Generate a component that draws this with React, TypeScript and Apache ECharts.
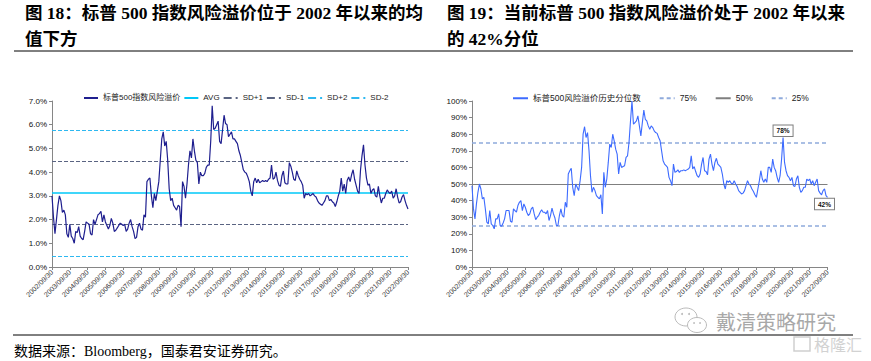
import React, { useEffect, useRef } from 'react';
import * as echarts from 'echarts';

// ---------- data ----------
const TICK_LABELS = [
  '2002/09/30', '2003/09/30', '2004/09/30', '2005/09/30', '2006/09/30', '2007/09/30',
  '2008/09/30', '2009/09/30', '2010/09/30', '2011/09/30', '2012/09/30', '2013/09/30',
  '2014/09/30', '2015/09/30', '2016/09/30', '2017/09/30', '2018/09/30', '2019/09/30',
  '2020/09/30', '2021/09/30', '2022/09/30',
];

// S&P 500 equity risk premium (%), monthly from 2002/09 to 2022/09
const RISK_PREMIUM = [
  3.0, 2.1, 1.4, 2.0, 2.6, 3.0, 2.8, 2.3, 2.4, 2.2, 1.4, 1.25,
  1.8, 1.3, 1.2, 1.0, 1.5, 1.45, 1.7, 1.3, 1.2, 1.15, 1.5, 1.9,
  1.85, 1.8, 1.4, 1.35, 2.0, 1.8, 2.0, 2.2, 2.25, 2.35, 1.9, 2.2,
  1.9, 1.75, 1.6, 1.75, 2.05, 1.85, 1.5, 1.55, 1.65, 1.75, 1.85, 1.8,
  1.75, 1.8, 1.5, 1.6, 1.85, 2.0, 1.7, 1.5, 1.2, 1.25, 1.7, 1.85,
  1.6, 1.55, 2.2, 2.1, 3.6, 3.7, 3.75, 3.0, 2.5, 3.1, 2.8, 3.2,
  3.6, 4.5, 5.4, 5.7, 5.1, 5.3, 4.5, 3.3, 2.8, 2.9, 2.6, 2.5,
  2.4, 2.6, 2.55, 1.7, 3.6, 3.4, 2.9, 3.5, 4.3, 4.9, 4.6, 5.4,
  4.9, 4.5, 4.4, 3.5, 4.0, 3.85, 3.85, 3.95, 4.2, 4.3, 4.3, 5.3,
  6.8, 5.8, 5.85, 6.0, 6.15, 5.3, 5.2, 5.8, 6.4, 6.05, 6.0, 5.5,
  5.6, 5.7, 5.4, 5.4, 5.3, 5.2, 4.9, 4.7, 4.4, 4.1, 4.0, 3.95,
  3.8, 3.6, 3.2, 3.0, 3.6, 3.75, 3.55, 3.7, 3.55, 3.6, 3.65, 3.6,
  3.65, 3.6, 3.7, 3.75, 4.3, 3.7, 3.75, 4.0, 3.65, 3.45, 3.4, 3.85,
  4.05, 3.55, 3.5, 3.5, 4.4, 4.25, 4.0, 3.7, 3.65, 4.05, 3.85, 3.7,
  3.6, 3.45, 2.9, 3.1, 3.05, 3.1, 3.0, 3.05, 3.1, 3.0, 2.95, 2.8,
  2.7, 2.65, 2.6, 2.7, 2.8, 3.0, 3.0, 2.8, 2.85, 2.75, 2.7, 2.55,
  2.75, 3.0, 3.2, 3.75, 3.2, 3.5, 3.1, 3.65, 3.8, 3.6, 3.9, 4.1,
  3.7, 3.45, 3.2, 3.1, 4.1, 4.7, 5.15, 4.3, 3.75, 3.45, 3.5, 3.1,
  3.25, 3.3, 3.0, 2.95, 3.4, 3.0, 2.7, 2.9, 2.9, 3.1, 3.25, 3.15,
  3.1, 3.2, 2.9, 3.0, 3.3, 2.95, 2.7, 2.75, 2.95, 3.05, 2.8, 2.6, 2.45,
];

// historical percentile of the risk premium (%), monthly
const PERCENTILE = [
  49, 35, 29, 38, 45, 50, 47, 41, 42, 35, 27, 26,
  34, 26, 25, 23, 29, 29, 32, 25, 24.5, 26.5, 29, 34,
  34, 34, 27.5, 27, 35, 34, 33, 37, 39, 40, 34, 38,
  36, 33, 31, 32, 35, 36, 32, 28.5, 30, 31, 33, 34.5,
  33, 33, 32, 34, 28, 31, 35.5, 32, 29.5, 25, 25, 31,
  35, 31, 30, 39, 36, 56, 58, 59.5, 48, 43, 50, 48,
  46, 52, 60, 80, 84.5, 78, 81, 70, 55, 45, 48, 46,
  43, 42, 41, 43.5, 32, 57, 48, 53, 63, 74, 72, 80,
  76, 71, 68, 56, 63, 60, 60.5, 61, 66, 67, 75, 88,
  100, 86, 87, 88, 91, 85, 79, 87, 94.5, 89, 88, 85,
  83, 85, 84, 82, 81, 80.5, 78, 76, 70, 64, 62, 61,
  60, 54, 52, 49, 62, 57, 57.5, 58.5, 57, 58, 58, 58.5,
  58, 58.5, 59, 60, 67, 59, 60.5, 57.5, 55, 54, 56, 62,
  66, 58, 57.5, 55.5, 65, 68, 62, 58, 63, 65.5, 62, 61,
  60, 56, 50, 47, 52, 51, 52, 50.5, 50, 52, 50, 48.5,
  46, 45, 44, 44.5, 46, 49, 52, 50, 49, 47, 45.5, 43.5,
  42, 47, 52, 58, 53, 51, 53, 51, 60, 60, 57, 65,
  60, 58, 54, 51, 55, 65, 78, 63, 58, 55, 54, 52,
  54, 49, 48.5, 53, 55, 48, 45, 46, 48, 48, 53, 52,
  53, 50, 52, 49, 51, 53, 46, 44.5, 43.5, 46, 47, 43, 42,
];

// reference levels of the left chart (%)
const AVG = 3.12;
const SD_PLUS_1 = 4.45;
const SD_MINUS_1 = 1.79;
const SD_PLUS_2 = 5.78;
const SD_MINUS_2 = 0.46;

// reference percentiles of the right chart
const P75 = 75;
const P50 = 50;
const P25 = 25;

// annotated points of the right chart (month index)
const MARKED_INDICES = [210, 240];

const START_YEAR = 2002;
const START_MONTH = 9;
const MONTHS = RISK_PREMIUM.map((_, i) => {
  const m = START_MONTH - 1 + i;
  const y = START_YEAR + Math.floor(m / 12);
  const mm = (m % 12) + 1;
  return `${y}/${String(mm).padStart(2, '0')}`;
});

// ---------- styles ----------
const AXIS_COLOR = '#868686';
const LATIN = 'Arial, "Liberation Sans", "Noto Sans CJK SC", sans-serif';
const SERIF = '"Liberation Serif", "Noto Sans CJK SC", serif';

const makeXAxis = (gridIndex: number) => ({
  type: 'category',
  gridIndex,
  data: MONTHS,
  boundaryGap: false,
  axisLine: { show: true, lineStyle: { color: AXIS_COLOR, width: 1 } },
  axisTick: {
    show: true,
    interval: (i: number) => i % 12 === 0,
    length: 3,
    lineStyle: { color: AXIS_COLOR },
  },
  axisLabel: {
    interval: (i: number) => i % 12 === 0,
    rotate: 45,
    fontSize: 7,
    color: '#333',
    margin: 4,
    fontFamily: LATIN,
    formatter: (v: string, i: number) => TICK_LABELS[Math.round(i / 12)] ?? v,
  },
  splitLine: { show: false },
});

const makeYAxis = (gridIndex: number, max: number, interval: number, fmt: (v: number) => string) => ({
  type: 'value',
  gridIndex,
  min: 0,
  max,
  interval,
  axisLine: { show: true, lineStyle: { color: AXIS_COLOR, width: 1 } },
  axisTick: { show: true, length: 3, lineStyle: { color: AXIS_COLOR } },
  axisLabel: { fontSize: 8, color: '#111', margin: 5, fontFamily: LATIN, formatter: fmt },
  splitLine: { show: false },
});

const refSeries = (
  name: string,
  value: number,
  color: string,
  type: 'solid' | 'dashed' | number[],
  width: number,
  axisIndex: number,
) => ({
  name,
  type: 'line',
  xAxisIndex: axisIndex,
  yAxisIndex: axisIndex,
  data: [],
  symbol: 'none',
  color,
  lineStyle: { color, type, width },
  markLine: {
    silent: true,
    symbol: ['none', 'none'],
    label: { show: false },
    lineStyle: { color, type, width },
    data: [{ yAxis: value }],
  },
});

const legendBase = {
  top: 89,
  itemWidth: 15,
  itemHeight: 8,
  itemStyle: { opacity: 0 },
};

export default function App() {
  const ref = useRef<HTMLDivElement>(null);

  useEffect(() => {
    const chart = echarts.init(ref.current!, null, { renderer: 'svg' });

    const option: any = {
      animation: false,
      backgroundColor: '#ffffff',
      grid: [
        { left: 52, top: 101, width: 356, height: 166 },
        { left: 472, top: 101, width: 355.5, height: 166 },
      ],
      xAxis: [makeXAxis(0), makeXAxis(1)],
      yAxis: [
        makeYAxis(0, 7, 1, (v: number) => `${v.toFixed(1)}%`),
        makeYAxis(1, 100, 10, (v: number) => `${v}%`),
      ],
      legend: [
        {
          ...legendBase,
          data: ['标普500指数风险溢价', 'AVG', 'SD+1', 'SD-1', 'SD+2', 'SD-2'],
          left: 78,
          itemWidth: 14,
          itemGap: 3,
          textStyle: { fontSize: 8, color: '#222', fontFamily: LATIN },
        },
        {
          ...legendBase,
          data: ['标普500风险溢价历史分位数', '75%', '50%', '25%'],
          left: 507,
          itemGap: 18,
          textStyle: { fontSize: 8.5, color: '#222', fontFamily: LATIN },
        },
      ],
      series: [
        {
          name: '标普500指数风险溢价',
          type: 'line',
          xAxisIndex: 0,
          yAxisIndex: 0,
          data: RISK_PREMIUM,
          symbol: 'none',
          color: '#1F1F8F',
          lineStyle: { color: '#1F1F8F', width: 1.2 },
          z: 5,
        },
        refSeries('AVG', AVG, '#00C8F8', 'solid', 1.5, 0),
        refSeries('SD+1', SD_PLUS_1, '#5A6482', 'dashed', 1, 0),
        refSeries('SD-1', SD_MINUS_1, '#5A6482', 'dashed', 1, 0),
        refSeries('SD+2', SD_PLUS_2, '#2EB8F0', 'dashed', 1, 0),
        refSeries('SD-2', SD_MINUS_2, '#2EB8F0', 'dashed', 1, 0),
        {
          name: '标普500风险溢价历史分位数',
          type: 'line',
          xAxisIndex: 1,
          yAxisIndex: 1,
          data: PERCENTILE,
          symbol: 'none',
          color: '#3D6BFF',
          lineStyle: { color: '#3D6BFF', width: 1.1 },
          z: 5,
          markPoint: {
            silent: true,
            symbol: 'circle',
            symbolSize: 1,
            itemStyle: { color: 'rgba(0,0,0,0)' },
            data: MARKED_INDICES.map((idx, k) => ({
              coord: [idx, PERCENTILE[idx]],
              label: {
                show: true,
                formatter: `${PERCENTILE[idx]}%`,
                position: k === 0 ? 'top' : 'bottom',
                distance: 1,
                offset: k === 0 ? [0, 0] : [-3, 0],
                fontSize: 6.5,
                fontWeight: 'bold',
                color: '#111',
                fontFamily: LATIN,
                backgroundColor: '#ffffff',
                borderColor: '#7f7f7f',
                borderWidth: 1,
                padding: [2, 3, 2, 3],
              },
            })),
          },
        },
        refSeries('75%', P75, '#8FAADC', [4, 3], 1.5, 1),
        refSeries('50%', P50, '#7F7F7F', 'solid', 1, 1),
        refSeries('25%', P25, '#8FAADC', [4, 3], 1.5, 1),
      ],
      graphic: [
        {
          type: 'text',
          left: 25,
          top: 4,
          style: {
            text: '图 18：标普 500 指数风险溢价位于 2002 年以来的均',
            font: `bold 17.5px ${SERIF}`,
            fill: '#000',
          },
        },
        {
          type: 'text',
          left: 25,
          top: 30,
          style: { text: '值下方', font: `bold 17.5px ${SERIF}`, fill: '#000' },
        },
        {
          type: 'text',
          left: 447,
          top: 4,
          style: {
            text: '图 19：当前标普 500 指数风险溢价处于 2002 年以来',
            font: `bold 17.5px ${SERIF}`,
            fill: '#000',
          },
        },
        {
          type: 'text',
          left: 447,
          top: 30,
          style: { text: '的 42%分位', font: `bold 17.5px ${SERIF}`, fill: '#000' },
        },
        {
          type: 'line',
          shape: { x1: 14, y1: 51, x2: 853, y2: 51 },
          style: { stroke: '#000', lineWidth: 1 },
        },
        {
          type: 'line',
          shape: { x1: 13, y1: 335, x2: 853, y2: 335 },
          style: { stroke: '#000', lineWidth: 1 },
        },
        {
          type: 'text',
          left: 14,
          top: 344,
          style: {
            text: '数据来源：Bloomberg，国泰君安证券研究。',
            font: `14px ${SERIF}`,
            fill: '#000',
          },
        },
        // watermark: wechat icon
        {
          type: 'ellipse',
          shape: { cx: 686, cy: 317, rx: 11, ry: 9 },
          style: { fill: '#fff', stroke: '#bbbbbb', lineWidth: 1 },
        },
        {
          type: 'ellipse',
          shape: { cx: 697, cy: 325, rx: 9.5, ry: 7.5 },
          style: { fill: '#fff', stroke: '#bbbbbb', lineWidth: 1 },
        },
        { type: 'circle', shape: { cx: 682, cy: 314, r: 1 }, style: { fill: '#bbbbbb' } },
        { type: 'circle', shape: { cx: 689, cy: 314, r: 1 }, style: { fill: '#bbbbbb' } },
        { type: 'circle', shape: { cx: 694, cy: 323, r: 0.9 }, style: { fill: '#bbbbbb' } },
        { type: 'circle', shape: { cx: 700, cy: 323, r: 0.9 }, style: { fill: '#bbbbbb' } },
        {
          type: 'text',
          left: 716,
          top: 311,
          style: { text: '戴清策略研究', font: `20px "Noto Sans CJK SC", sans-serif`, fill: '#a8a8a8' },
        },
        // watermark: gelonghui
        {
          type: 'rect',
          shape: { x: 794, y: 337, width: 16, height: 14 },
          style: { fill: 'none', stroke: '#cfcfcf', lineWidth: 1.5 },
        },
        {
          type: 'text',
          left: 814,
          top: 336,
          style: { text: '格隆汇', font: `16px "Noto Sans CJK SC", sans-serif`, fill: '#d2d2d2' },
        },
      ],
    };

    chart.setOption(option);
    return () => chart.dispose();
  }, []);

  return (
    <div
      ref={ref}
      style={{ position: 'absolute', left: 0, top: 0, width: 871, height: 361, background: '#fff' }}
    />
  );
}
